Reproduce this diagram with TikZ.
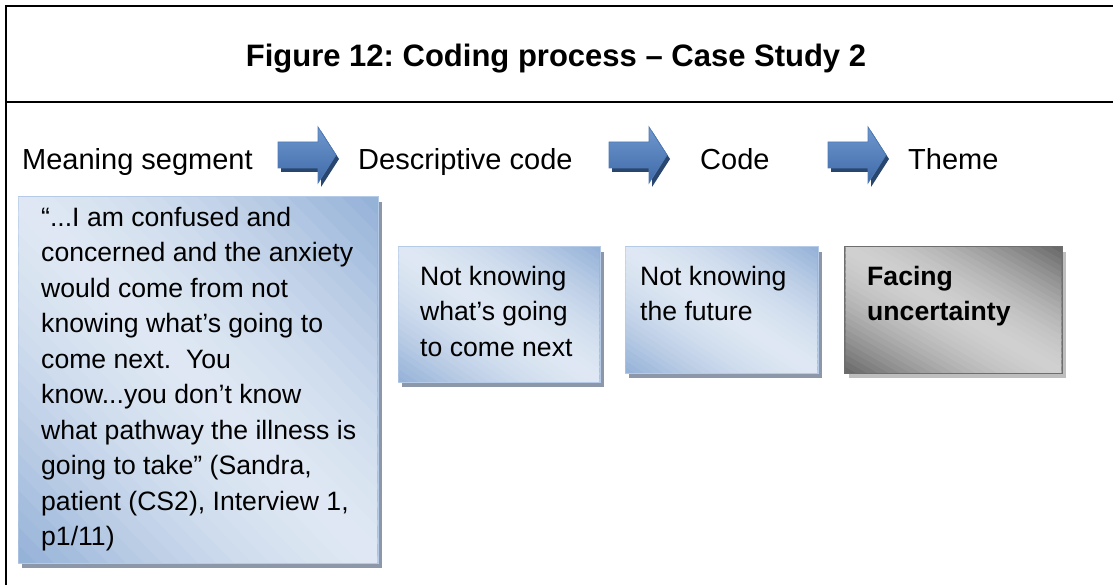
\documentclass[tikz,border=0pt]{standalone}
\usepackage{fontspec}
\setmainfont{Liberation Sans}
\usetikzlibrary{shadows}
\definecolor{blight}{RGB}{222,231,243}
\definecolor{bdark}{RGB}{146,176,214}
\definecolor{bborder}{RGB}{180,202,230}
\definecolor{bshadow}{RGB}{140,152,170}
\definecolor{glight}{RGB}{208,208,208}
\definecolor{gdark}{RGB}{102,102,102}
\definecolor{gborder}{RGB}{110,110,110}
\definecolor{gshadow}{RGB}{190,190,190}
\definecolor{alight}{RGB}{112,152,206}
\definecolor{adark}{RGB}{62,106,168}
\definecolor{aedge}{RGB}{78,122,182}
\definecolor{ashadow}{RGB}{40,70,110}
\frenchspacing
% diagonal gradient: light band from top-left to bottom-right, dark at the other two corners
% #1 x0, #2 y0, #3 x1, #4 y1 (y grows downward), #5 light, #6 dark
\newcommand\diaggrad[6]{%
  \begin{scope}
    \clip (#1+0.6,#2+0.6) rectangle (#3-0.6,#4-0.6);
    \foreach \i in {0,...,39}{%
      \pgfmathsetmacro\ca{2*\i/40}%
      \pgfmathsetmacro\cb{2*(\i+1.3)/40}%
      \pgfmathsetmacro\pct{100*(1-pow(abs((2*\i+1)/40-1),1.6))}%
      \fill[#5!\pct!#6] ({#1+(\ca+1)*(#3-#1)},{#4+(#4-#2)}) -- ({#1+(\ca-2)*(#3-#1)},{#4-2*(#4-#2)})
        -- ({#1+(\cb-2)*(#3-#1)},{#4-2*(#4-#2)}) -- ({#1+(\cb+1)*(#3-#1)},{#4+(#4-#2)}) -- cycle;
    }
  \end{scope}}
\begin{document}
\begin{tikzpicture}[x=1pt,y=-1pt,
  frameline/.style={line width=2pt, black},
  bluebox/.style={draw=bborder, line width=1pt, fill=bdark, inner sep=0pt, outer sep=0pt, anchor=north west,
    general shadow={fill=bshadow, shadow xshift=4pt, shadow yshift=-5pt}},
  graybox/.style={draw=gborder, line width=1.5pt, fill=gdark, inner sep=0pt, outer sep=0pt, anchor=north west,
    general shadow={fill=gshadow, shadow xshift=4pt, shadow yshift=-5pt}},
  boxtext/.style={inner sep=0pt, anchor=north west, align=left, font=\fontsize{26.6pt}{35.5pt}\selectfont},
  label/.style={inner sep=0pt, anchor=base west, font=\fontsize{29pt}{34pt}\selectfont},
  flowarrow/.pic={
    \fill[ashadow] (3,-9) -- (43,-9) -- (43,-24) -- (61,4) -- (43,32) -- (43,17) -- (3,17) -- cycle;
    \draw[aedge, line width=0.8pt, top color=alight, bottom color=adark]
      (0,-13) -- (40,-13) -- (40,-28) -- (58,0) -- (40,28) -- (40,13) -- (0,13) -- cycle;
  }]
\useasboundingbox (0,0) rectangle (1113,585);
% frame
\coordinate (tl) at (6,6.5);
\coordinate (tr) at (1113,6.5);
\coordinate (ml) at (6,102.5);
\coordinate (mr) at (1113,102.5);
\coordinate (bl) at (6,585);
\draw[frameline] (tl) -- (tr);
\draw[frameline] (ml) -- (mr);
\draw[frameline] (6,5.5) -- (bl);
% title
\node[inner sep=0pt, anchor=base, font=\fontsize{31pt}{36pt}\selectfont\bfseries] (title) at (556,67) {Figure 12: Coding process – Case Study 2};
% labels
\node[label] (l1) at (22,170) {Meaning segment};
\node[label] (l2) at (358,170) {Descriptive code};
\node[label] (l3) at (700,170) {Code};
\node[label] (l4) at (908,170) {Theme};
% arrows
\pic (a1) at (278,155) {flowarrow};
\pic (a2) at (609,155) {flowarrow};
\pic (a3) at (828,155) {flowarrow};
% boxes
\node[bluebox, minimum width=360pt, minimum height=366pt] (q) at (18,197) {};
\diaggrad{18}{197}{378}{563}{blight}{bdark}
\node[bluebox, minimum width=202pt, minimum height=135pt] (b2) at (398,247) {};
\diaggrad{398}{247}{600}{382}{blight}{bdark}
\node[bluebox, minimum width=193pt, minimum height=126pt] (b3) at (625,247) {};
\diaggrad{625}{247}{818}{373}{blight}{bdark}
\node[graybox, minimum width=217pt, minimum height=126pt] (b4) at (845,247) {};
\diaggrad{845}{247}{1062}{373}{glight}{gdark}
% texts
\node[boxtext] (qt) at (41,206.6) {“...I am confused and\\concerned and the anxiety\\would come from not\\knowing what’s going to\\come next.\ \ You\\know...you don’t know\\what pathway the illness is\\going to take” (Sandra,\\patient (CS2), Interview 1,\\p1/11)};
\node[boxtext] (t2) at (420,266) {Not knowing\\what’s going\\to come next};
\node[boxtext] (t3) at (640,266) {Not knowing\\the future};
\node[boxtext, font=\fontsize{26.6pt}{35.5pt}\selectfont\bfseries] (t4) at (867,266) {Facing\\uncertainty};
\end{tikzpicture}
\end{document}
